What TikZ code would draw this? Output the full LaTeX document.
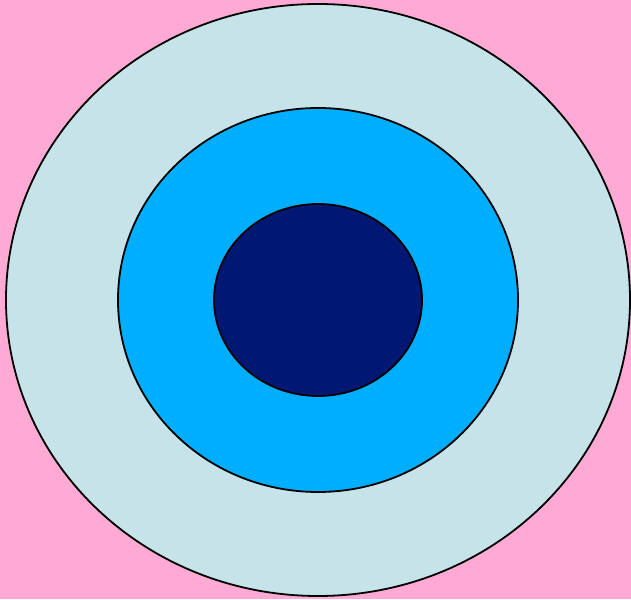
\documentclass[tikz,border=0pt]{standalone}
\usetikzlibrary{shapes.geometric}
\definecolor{bgpink}{HTML}{FFAAD4}
\definecolor{ringlight}{HTML}{C5E3E8}
\definecolor{ringmid}{HTML}{00AEFF}
\definecolor{ringdark}{HTML}{001874}
\begin{document}
\begin{tikzpicture}[x=1pt,y=1pt,ring/.style={draw=black,line width=1.8pt,ellipse,inner sep=0pt}]
\fill[bgpink] (0,0) rectangle (631,599);
\useasboundingbox (0,0) rectangle (631,599);
\node[ring,fill=ringlight,minimum width=624pt,minimum height=592pt] (outer) at (318,299) {};
\node[ring,fill=ringmid,minimum width=400pt,minimum height=384pt] (mid) at (318,299) {};
\node[ring,fill=ringdark,minimum width=208pt,minimum height=192pt] (inner) at (318,299) {};
\end{tikzpicture}
\end{document}
